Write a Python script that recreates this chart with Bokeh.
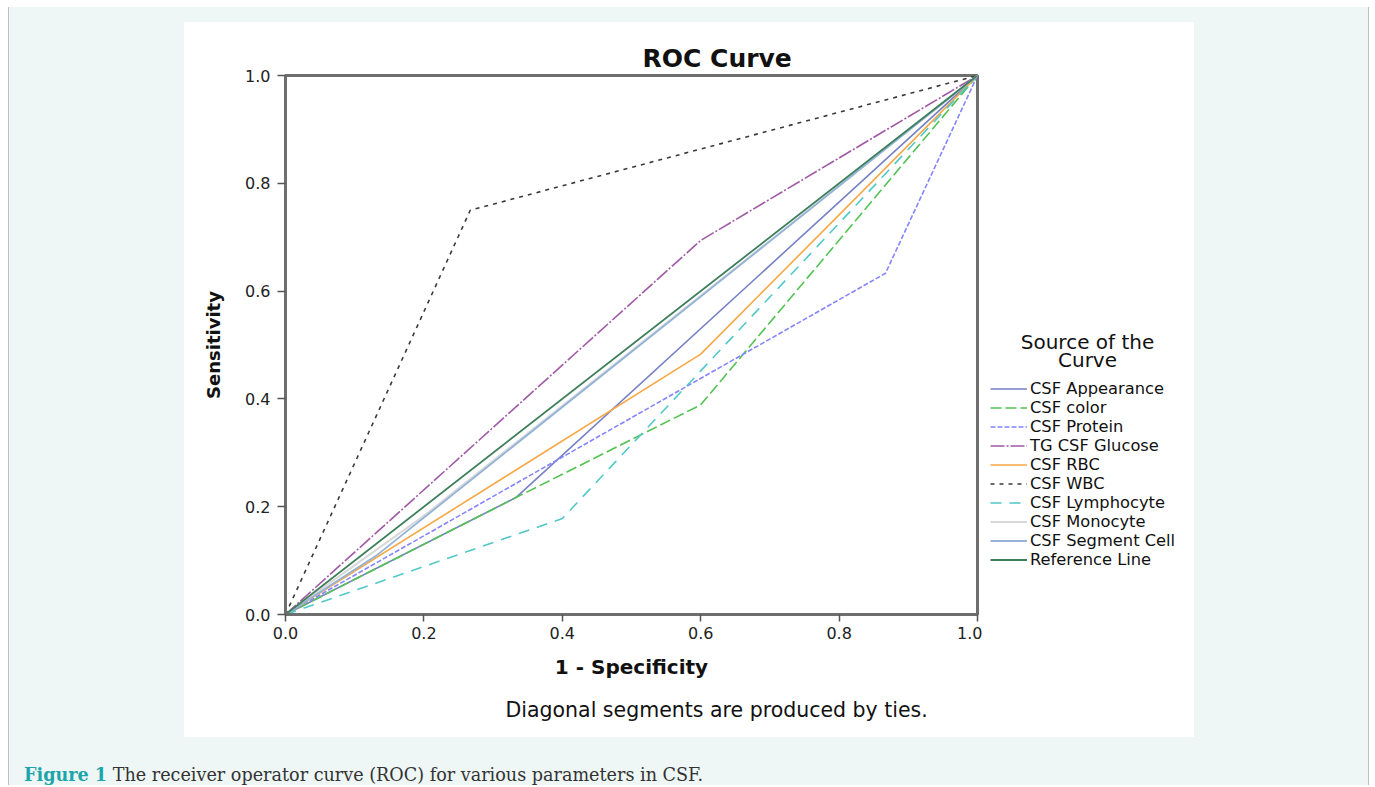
from bokeh.plotting import figure
from bokeh.models import (Range1d, FixedTicker, PrintfTickFormatter, Legend, LegendItem,
                          Label, Spacer, Div, Title)
from bokeh.layouts import row, column
from bokeh.embed import file_html
from bokeh.resources import INLINE

# ---------------- data ----------------
series_names = ["CSF Appearance", "CSF color", "CSF Protein", "TG CSF Glucose", "CSF RBC",
                "CSF WBC", "CSF Lymphocyte", "CSF Monocyte", "CSF Segment Cell", "Reference Line"]

fpr_appearance = [0.0, 0.333, 1.0]
tpr_appearance = [0.0, 0.217, 1.0]
fpr_color = [0.0, 0.333, 0.6, 1.0]
tpr_color = [0.0, 0.217, 0.389, 1.0]
fpr_protein = [0.0, 0.867, 1.0]
tpr_protein = [0.0, 0.633, 1.0]
fpr_glucose = [0.0, 0.6, 1.0]
tpr_glucose = [0.0, 0.694, 1.0]
fpr_rbc = [0.0, 0.6, 1.0]
tpr_rbc = [0.0, 0.483, 1.0]
fpr_wbc = [0.0, 0.267, 1.0]
tpr_wbc = [0.0, 0.75, 1.0]
fpr_lymph = [0.0, 0.4, 1.0]
tpr_lymph = [0.0, 0.178, 1.0]
fpr_mono = [0.0, 0.2, 1.0]
tpr_mono = [0.0, 0.183, 1.0]
fpr_segment = [0.0, 0.133, 1.0]
tpr_segment = [0.0, 0.111, 1.0]
fpr_reference = [0.0, 1.0]
tpr_reference = [0.0, 1.0]

axis_ticks = [0.0, 0.2, 0.4, 0.6, 0.8, 1.0]

# ---------------- styles ----------------
MINT = "#eef7f6"
FONT = "DejaVu Sans"
TXT = "#111111"
styles = [
    dict(color="#7680c4", dash="solid", width=1.6),     # Appearance
    dict(color="#52c252", dash="11 4", width=1.6),      # color
    dict(color="#8585ff", dash="5 2", width=1.6),       # Protein
    dict(color="#a05aa5", dash="14 2 2 2", width=1.6),  # Glucose
    dict(color="#f7a845", dash="solid", width=1.6),     # RBC
    dict(color="#3a3a3a", dash="4 5", width=1.6),       # WBC
    dict(color="#52c8c8", dash="11 8", width=1.6),      # Lymphocyte
    dict(color="#d8d8d8", dash="solid", width=2.0),     # Monocyte
    dict(color="#93b4d8", dash="solid", width=1.8),     # Segment cell
    dict(color="#3d7f5a", dash="solid", width=1.8),     # Reference
]
xs = [fpr_appearance, fpr_color, fpr_protein, fpr_glucose, fpr_rbc, fpr_wbc, fpr_lymph,
      fpr_mono, fpr_segment, fpr_reference]
ys = [tpr_appearance, tpr_color, tpr_protein, tpr_glucose, tpr_rbc, tpr_wbc, tpr_lymph,
      tpr_mono, tpr_segment, tpr_reference]

# ---------------- main ROC figure ----------------
p = figure(width=798, height=715, output_backend="svg", toolbar_location=None,
           x_range=Range1d(0, 1), y_range=Range1d(0, 1),
           min_border_left=101, min_border_right=5, min_border_top=53, min_border_bottom=123,
           background_fill_color="white", border_fill_color="white")
p.grid.visible = False
p.outline_line_color = "#6e6e6e"
p.outline_line_width = 3

for ax in (p.xaxis[0], p.yaxis[0]):
    ax.ticker = FixedTicker(ticks=axis_ticks)
    ax.formatter = PrintfTickFormatter(format="%.1f")
    ax.axis_line_color = "#6e6e6e"
    ax.axis_line_width = 3
    ax.major_tick_line_color = "#555555"
    ax.major_tick_line_width = 1.5
    ax.major_tick_in = 0
    ax.minor_tick_line_color = None
    ax.major_label_text_font = FONT
    ax.major_label_text_font_size = "16px"
    ax.major_label_text_color = "#222222"
    ax.axis_label_text_font = FONT
    ax.axis_label_text_font_style = "bold"
    ax.axis_label_text_color = TXT

p.xaxis.axis_label = "1 - Specificity"
p.xaxis.axis_label_text_font_size = "20px"
p.xaxis.major_tick_out = 7
p.xaxis.major_label_standoff = 5
p.xaxis.axis_label_standoff = 13

p.yaxis.axis_label = "Sensitivity"
p.yaxis.axis_label_text_font_size = "18px"
p.yaxis.major_tick_out = 8
p.yaxis.major_label_standoff = 7
p.yaxis.axis_label_standoff = 18

p.title.text = "ROC Curve"
p.title.align = "left"
p.title.offset = 357
p.title.standoff = 6
p.title.text_font = FONT
p.title.text_font_size = "25px"
p.title.text_font_style = "bold"
p.title.text_color = TXT

p.add_layout(Title(text="Diagonal segments are produced by ties.", align="left", offset=220,
                   standoff=29, text_font=FONT, text_font_size="20.5px",
                   text_font_style="normal", text_color=TXT), "below")

for x, y, st in zip(xs, ys, styles):
    p.line(x, y, line_color=st["color"], line_width=st["width"], line_dash=st["dash"])

# ---------------- legend panel (frame aligned with the ROC frame) ----------------
pl = figure(width=212, height=715, output_backend="svg", toolbar_location=None,
            x_range=Range1d(0, 212), y_range=Range1d(0, 539),
            x_axis_location=None, y_axis_location=None,
            min_border_left=0, min_border_right=0, min_border_top=0, min_border_bottom=0,
            background_fill_color="white", border_fill_color="white", outline_line_color=None)
pl.grid.visible = False

items = []
for name, x, y, st in zip(series_names, xs, ys, styles):
    r = pl.line(x, y, line_color=st["color"], line_width=st["width"], line_dash=st["dash"],
                visible=False)
    items.append(LegendItem(label=name, renderers=[r]))

legend = Legend(items=items, location=(8, 45), orientation="vertical",
                border_line_alpha=0, background_fill_alpha=0, padding=0, margin=0, spacing=0,
                glyph_width=37, glyph_height=19, label_height=19, label_standoff=3,
                inactive_fill_alpha=0,
                label_text_font=FONT, label_text_font_size="16.3px", label_text_color=TXT)
pl.add_layout(legend)

pl.add_layout(Label(x=105, y=273, text="Source of the", text_align="center", text_baseline="middle",
                    text_font=FONT, text_font_size="20px", text_color=TXT))
pl.add_layout(Label(x=105, y=255, text="Curve", text_align="center", text_baseline="middle",
                    text_font=FONT, text_font_size="20px", text_color=TXT))

# ---------------- page layout ----------------
caption = Div(text=('<div style="padding-top:28px;padding-left:15px;font-family:\'DejaVu Serif\';'
                    'font-size:17.6px;line-height:20px;color:#333333;white-space:nowrap;">'
                    '<b style="color:#1ca5aa;">Figure 1</b> The receiver operator curve (ROC) '
                    'for various parameters in CSF.</div>'),
              width=1359, height=48, margin=0, styles={"background-color": MINT})

top_strip = Spacer(width=1359, height=15, margin=0, styles={"background-color": MINT})
left_pad = Spacer(width=175, height=715, margin=0, styles={"background-color": MINT})
right_pad = Spacer(width=174, height=715, margin=0, styles={"background-color": MINT})
middle = row(left_pad, p, pl, right_pad, spacing=0, margin=0)
inner = column(top_strip, middle, caption, spacing=0, margin=0)
line_l = Spacer(width=1, height=778, margin=0, styles={"background-color": "#b8c4c4"})
line_r = Spacer(width=1, height=778, margin=0, styles={"background-color": "#b8c4c4"})
white_l = Spacer(width=8, height=778, margin=0)
body = row(white_l, line_l, inner, line_r, spacing=0, margin=0)
white_t = Spacer(width=1369, height=7, margin=0)
page = column(white_t, body, spacing=0, margin=0)

open("out.html", "w").write(file_html(page, INLINE))
